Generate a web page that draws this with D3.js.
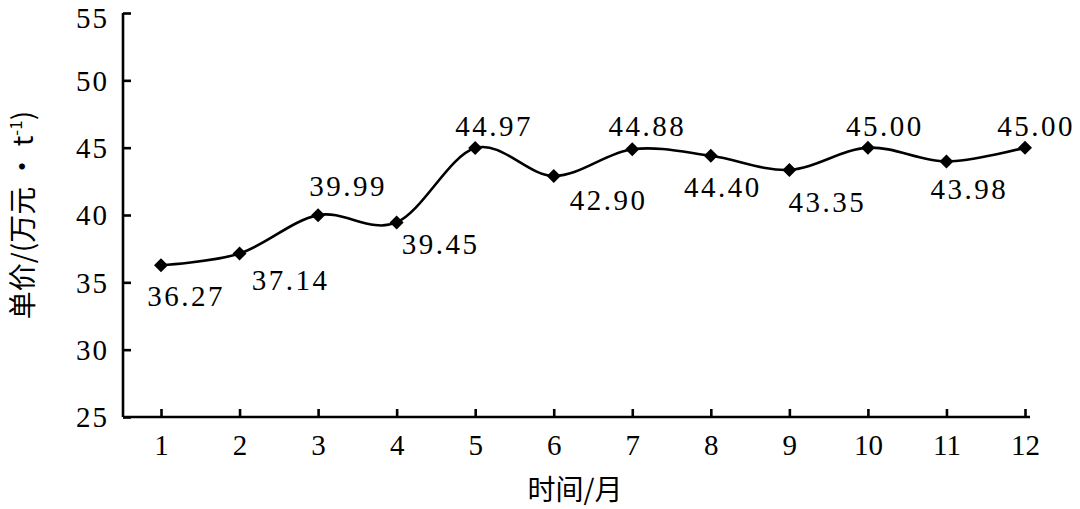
<!DOCTYPE html>
<html><head><meta charset="utf-8">
<script src="https://cdn.jsdelivr.net/npm/d3@7"></script>
<style>body{margin:0;background:#fff}svg{display:block}</style>
</head><body>
<svg id="c" width="1080" height="509"></svg>
<script>
const months = [1,2,3,4,5,6,7,8,9,10,11,12];
const prices = [36.27,37.14,39.99,39.45,44.97,42.90,44.88,44.40,43.35,45.00,43.98,45.00];
const priceLabels = ["36.27","37.14","39.99","39.45","44.97","42.90","44.88","44.40","43.35","45.00","43.98","45.00"];
const yTicks = [25,30,35,40,45,50,55];
const xTitle = "时间/月";
// label placement (style): dx, dy from point
const labelOffsets = [[25,41],[51,36],[30,-19],[44,32],[19,-12],[55,34],[15,-13],[12,41],[38,42],[17,-12],[23,38],[11,-12]];

(function(){
const svg = d3.select("#c");
const mLeft = 123, mRight = 1030, mTop = 13, mBottom = 417;
const x1 = d3.scaleLinear().domain([1,12]).range([161,1025]);
const y = d3.scaleLinear().domain([25,55]).range([mBottom, mTop]);
const serif = "'Liberation Serif','Times New Roman',serif";

const ya = svg.append("g").attr("transform",`translate(${mLeft},0)`)
  .call(d3.axisRight(y).tickValues(yTicks).tickSize(8).tickFormat(d3.format("d")));
ya.select(".domain").attr("d",`M0,${mTop}V${mBottom}`).attr("stroke","#000").attr("stroke-width",2.6);
ya.selectAll(".tick line").attr("stroke","#000").attr("stroke-width",2.6);
ya.selectAll(".tick text").attr("x",-14).attr("text-anchor","end").attr("dy","0.34em")
  .style("font-family",serif).style("font-size","29px").style("letter-spacing","2px").attr("fill","#000");
ya.selectAll(".tick text").filter(d=>d===55).attr("dy","0.5em");

const xa = svg.append("g").attr("transform",`translate(0,${mBottom})`)
  .call(d3.axisTop(x1).tickValues(months).tickSize(8).tickFormat(d3.format("d")));
xa.select(".domain").attr("d",`M${mLeft},0H${mRight}`).attr("stroke","#000").attr("stroke-width",2.6);
xa.selectAll(".tick line").attr("stroke","#000").attr("stroke-width",2.6);
xa.selectAll(".tick text").attr("y",38).attr("dy",0)
  .style("font-family",serif).style("font-size","29px").attr("fill","#000");

const line = d3.line().x((d,i)=>x1(months[i])).y(d=>y(d)).curve(d3.curveCardinal.tension(0));
svg.append("path").datum(prices).attr("d",line).attr("fill","none").attr("stroke","#000").attr("stroke-width",2.6);

svg.append("g").selectAll("path").data(prices).join("path")
  .attr("transform",(d,i)=>`translate(${x1(months[i])},${y(d)})`)
  .attr("d","M0,-7L7,0L0,7L-7,0Z").attr("fill","#000");

svg.append("g").selectAll("text").data(prices).join("text")
  .attr("x",(d,i)=>x1(months[i])+labelOffsets[i][0])
  .attr("y",(d,i)=>y(d)+labelOffsets[i][1])
  .attr("text-anchor","middle")
  .style("font-family",serif).style("font-size","29px").style("letter-spacing","2.5px").attr("fill","#000")
  .text((d,i)=>priceLabels[i]);

svg.append("text").attr("x",575).attr("y",500).attr("text-anchor","middle")
  .style("font-family","'Noto Sans CJK SC',serif").style("font-size","28px").attr("fill","#000").text(xTitle);
const yt = svg.append("text").attr("transform","translate(33,215) rotate(-90)").attr("text-anchor","middle")
  .style("font-family","'Noto Sans CJK SC','Liberation Serif',serif").style("font-size","28px").attr("fill","#000");
yt.append("tspan").text("单价/(万元 · t");
yt.append("tspan").attr("dy",-11).style("font-size","17px").text("-1");
yt.append("tspan").attr("dy",11).text(")");
})();
</script>
</body></html>
